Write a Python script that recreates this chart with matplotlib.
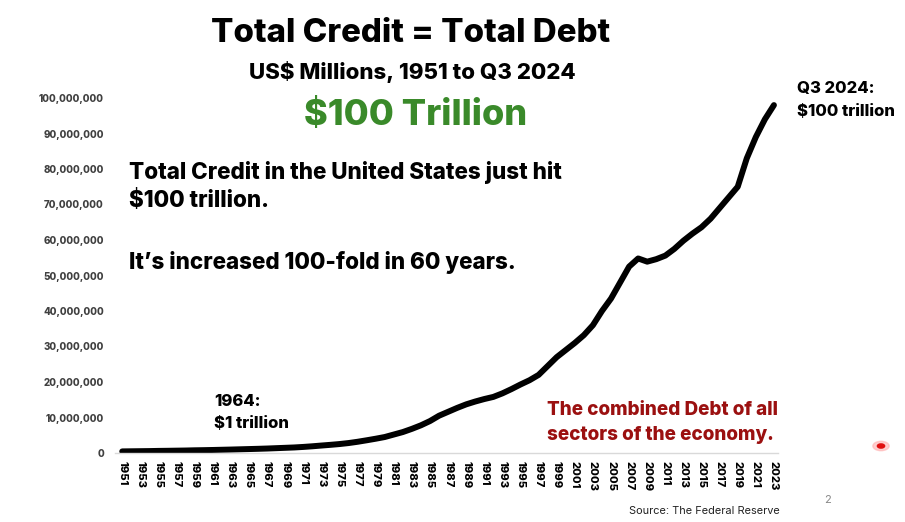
import matplotlib
matplotlib.use("Agg")
import matplotlib.pyplot as plt
from matplotlib.ticker import FuncFormatter

plt.rcParams['font.family'] = ['Inter', 'DejaVu Sans']

# Total credit market debt, US$ millions
years = list(range(1951, 2024))
credit = [
    0.45e6, 0.48e6, 0.51e6, 0.54e6, 0.59e6, 0.62e6, 0.66e6, 0.70e6, 0.76e6, 0.80e6,
    0.85e6, 0.91e6, 0.97e6, 1.04e6, 1.11e6, 1.18e6, 1.26e6, 1.36e6, 1.46e6, 1.56e6,
    1.71e6, 1.89e6, 2.10e6, 2.30e6, 2.52e6, 2.80e6, 3.16e6, 3.58e6, 4.02e6, 4.50e6,
    5.20e6, 5.90e6, 6.80e6, 7.80e6, 9.00e6, 10.5e6, 11.6e6, 12.7e6, 13.7e6, 14.5e6,
    15.2e6, 15.8e6, 16.8e6, 18.0e6, 19.3e6, 20.5e6, 22.0e6, 24.5e6, 27.0e6, 29.0e6,
    31.0e6, 33.2e6, 36.0e6, 40.0e6, 43.5e6, 48.0e6, 52.5e6, 54.8e6, 53.9e6, 54.6e6,
    55.6e6, 57.5e6, 59.8e6, 61.8e6, 63.6e6, 66.0e6, 69.0e6, 72.0e6, 75.0e6, 83.0e6,
    89.0e6, 94.0e6, 98.0e6,
]
tick_years = years[::2]
y_ticks = list(range(0, 100_000_001, 10_000_000))

W, H = 905, 522
fig = plt.figure(figsize=(W / 100, H / 100), dpi=100)


def fx(x):
    return x / W


def fy(y):
    return 1 - y / H


ax = fig.add_axes([fx(115), fy(453), fx(778) - fx(115), fy(98) - fy(453)])
ax.plot(years, credit, color="black", lw=4.3, solid_capstyle="round", solid_joinstyle="round")
ax.set_xlim(1950.2, 2023.45)
ax.set_ylim(0, 100_000_000)
ax.set_xticks(tick_years)
ax.set_xticklabels([str(y) for y in tick_years], rotation=-90, fontsize=8, fontweight="heavy")
ax.set_yticks(y_ticks)
ax.yaxis.set_major_formatter(FuncFormatter(lambda v, p: f"{int(v):,}"))
for lab in ax.get_yticklabels():
    lab.set_fontsize(7)
    lab.set_fontweight("heavy")
    lab.set_color("#404040")
ax.tick_params(axis="both", length=0)
ax.tick_params(axis="y", pad=8)
ax.tick_params(axis="x", pad=6)
for s in ["top", "right", "left"]:
    ax.spines[s].set_visible(False)
ax.spines["bottom"].set_color("#d9d9d9")
ax.spines["bottom"].set_linewidth(1)
ax.patch.set_alpha(0)

# titles
fig.text(fx(411), fy(34), "Total Credit = Total Debt", ha="center", va="center",
         fontsize=23.8, fontweight="heavy")
fig.text(fx(412), fy(72), "US$ Millions, 1951 to Q3 2024", ha="center", va="center",
         fontsize=16, fontweight="heavy")
fig.text(fx(416), fy(115), "$100 Trillion", ha="center", va="center",
         fontsize=26, fontweight="heavy", color="#3a8a2a")

# body text
fig.text(fx(129), fy(172), "Total Credit in the United States just hit", ha="left", va="center",
         fontsize=16.2, fontweight="heavy")
fig.text(fx(129), fy(201), "$100 trillion.", ha="left", va="center",
         fontsize=16.2, fontweight="heavy")
fig.text(fx(129), fy(262), "It\u2019s increased 100-fold in 60 years.", ha="left", va="center",
         fontsize=16.2, fontweight="heavy")

# annotations
fig.text(fx(214), fy(401), "1964:", ha="left", va="center", fontsize=12, fontweight="heavy")
fig.text(fx(214), fy(423), "$1 trillion", ha="left", va="center", fontsize=12, fontweight="heavy")
fig.text(fx(797), fy(89), "Q3 2024:", ha="left", va="center", fontsize=12, fontweight="heavy")
fig.text(fx(797), fy(112), "$100 trillion", ha="left", va="center", fontsize=12, fontweight="heavy")
fig.text(fx(547), fy(410), "The combined Debt of all", ha="left", va="center",
         fontsize=13.6, fontweight="heavy", color="#9b1010")
fig.text(fx(547), fy(435), "sectors of the economy.", ha="left", va="center",
         fontsize=13.6, fontweight="heavy", color="#9b1010")

fig.text(fx(780), fy(511), "Source: The Federal Reserve", ha="right", va="center",
         fontsize=7.9, color="#222222")
fig.text(fx(827), fy(500), "2", ha="center", va="center", fontsize=8, color="#888888")

# small red pointer dot
fig.patches.append(plt.Circle((fx(881), fy(446)), 0.009, transform=fig.transFigure,
                              color="#ffb0b0", alpha=0.6))
fig.patches.append(plt.Circle((fx(881), fy(446)), 0.004, transform=fig.transFigure,
                              color="#e01010"))

fig.savefig("out.png", dpi=100)
